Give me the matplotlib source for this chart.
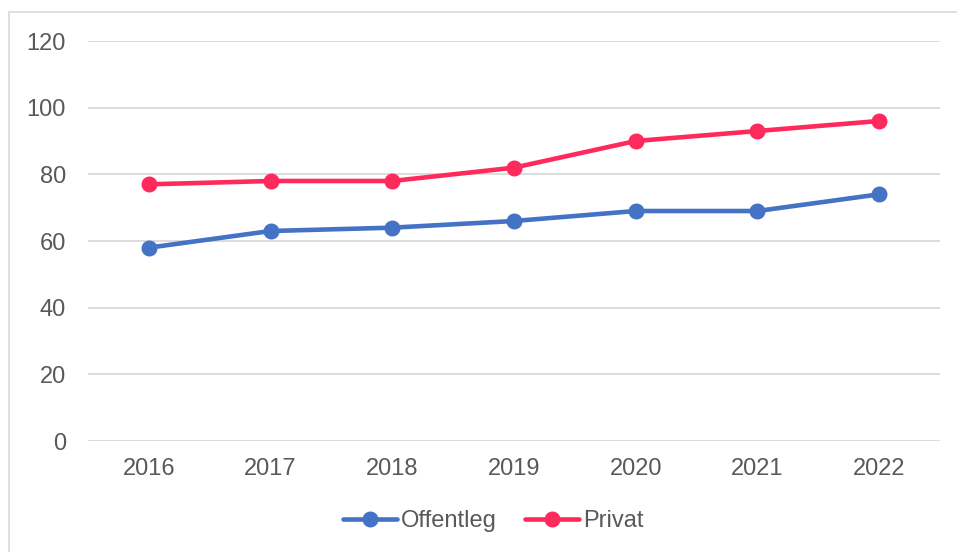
import matplotlib
matplotlib.use("Agg")
import matplotlib.pyplot as plt
from matplotlib.patches import Rectangle

years = ["2016", "2017", "2018", "2019", "2020", "2021", "2022"]
offentleg = [58, 63, 64, 66, 69, 69, 74]
privat = [77, 78, 78, 82, 90, 93, 96]
yticks = [0, 20, 40, 60, 80, 100, 120]

plt.rcParams['font.family'] = ['Liberation Sans', 'DejaVu Sans']
W, H = 957, 552
fig = plt.figure(figsize=(W / 100, H / 100), dpi=100)
fig.patch.set_facecolor("white")

# chart border (only left and top edges visible in the crop)
fig.patches.append(Rectangle((9 / W, -0.05), 1.2, 1 - 12 / H + 0.05,
                             transform=fig.transFigure, fill=False,
                             edgecolor="#D9D9D9", linewidth=1.2))

ax = fig.add_axes([88 / W, 1 - 441 / H, (940 - 88) / W, (441 - 41) / H])
x = list(range(len(years)))
blue = "#4472C4"
pink = "#FF2A5C"
ax.plot(x, offentleg, color=blue, lw=3.3, marker="o", ms=10.5, label="Offentleg",
        solid_capstyle="round", zorder=3)
ax.plot(x, privat, color=pink, lw=3.3, marker="o", ms=10.5, label="Privat",
        solid_capstyle="round", zorder=3)

ax.set_xlim(-0.5, len(years) - 0.5)
ax.set_ylim(0, 120)
ax.set_yticks(yticks)
ax.set_xticks(x)
ax.set_xticklabels(years)
ax.grid(axis="y", color="#D9D9D9", lw=1.3)
ax.set_axisbelow(True)
for s in ax.spines.values():
    s.set_visible(False)
ax.tick_params(length=0, labelsize=17, colors="#595959")
ax.tick_params(axis="y", pad=16)
ax.tick_params(axis="x", pad=12)

leg = fig.legend(loc="center", bbox_to_anchor=(493 / W, 1 - 521 / H), ncol=2,
                 frameon=False, fontsize=17, handlelength=2.3,
                 handletextpad=0.15, columnspacing=1.2)
for t in leg.get_texts():
    t.set_color("#595959")

fig.savefig("out.png", dpi=100, facecolor="white")
